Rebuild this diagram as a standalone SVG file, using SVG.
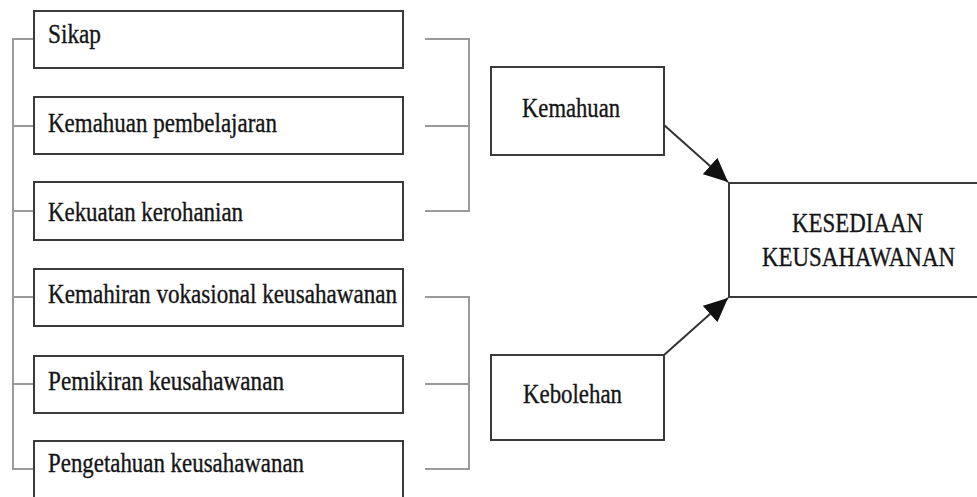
<svg xmlns="http://www.w3.org/2000/svg" width="977" height="497" viewBox="0 0 977 497">
<style>
  .box { fill: #fff; stroke: #3a3a3a; stroke-width: 2; }
  .br { fill: none; stroke: #9a9a9a; stroke-width: 2; }
  .arr { fill: none; stroke: #333; stroke-width: 2; }
  text { font-family: "Liberation Serif", "Times New Roman", serif; font-size: 27px; fill: #151515; stroke: #151515; stroke-width: 0.35; }
</style>
<defs>
  <marker id="ah" markerUnits="userSpaceOnUse" markerWidth="26" markerHeight="22" refX="24" refY="11" orient="auto">
    <path d="M0,0 L24,11 L0,22 Z" fill="#111"/>
  </marker>
</defs>
<rect x="0" y="0" width="977" height="497" fill="#fff"/>
<g id="connectors">
  <path class="br" d="M34,39 H13 V469 H34 M13,126 H34 M13,211 H34 M13,297 H34 M13,384 H34"/>
  <path class="br" d="M425,39 H469 V211 H425 M425,126 H469"/>
  <path class="br" d="M425,297 H469 V469 H425 M425,384 H469"/>
  <line class="arr" x1="664" y1="125" x2="728" y2="182" marker-end="url(#ah)"/>
  <line class="arr" x1="664" y1="355" x2="728" y2="298" marker-end="url(#ah)"/>
</g>
<g id="sikap">
  <rect class="box" x="34" y="11" width="369" height="57"/>
  <text x="48" y="43" textLength="53" lengthAdjust="spacingAndGlyphs">Sikap</text>
</g>
<g id="kemahuan-pembelajaran">
  <rect class="box" x="34" y="97" width="369" height="57"/>
  <text x="48" y="132" textLength="229" lengthAdjust="spacingAndGlyphs">Kemahuan pembelajaran</text>
</g>
<g id="kekuatan-kerohanian">
  <rect class="box" x="34" y="182" width="369" height="58"/>
  <text x="48" y="221" textLength="195" lengthAdjust="spacingAndGlyphs">Kekuatan kerohanian</text>
</g>
<g id="kemahiran-vokasional">
  <rect class="box" x="34" y="269" width="369" height="57"/>
  <text x="48" y="303" textLength="349" lengthAdjust="spacingAndGlyphs">Kemahiran vokasional keusahawanan</text>
</g>
<g id="pemikiran">
  <rect class="box" x="34" y="356" width="369" height="57"/>
  <text x="48" y="390" textLength="236" lengthAdjust="spacingAndGlyphs">Pemikiran keusahawanan</text>
</g>
<g id="pengetahuan">
  <path class="box" d="M34,497 V441 H403 V497"/>
  <text x="48" y="472" textLength="256" lengthAdjust="spacingAndGlyphs">Pengetahuan keusahawanan</text>
</g>
<g id="kemahuan">
  <rect class="box" x="491" y="67" width="173" height="88"/>
  <text x="522" y="117" textLength="98" lengthAdjust="spacingAndGlyphs">Kemahuan</text>
</g>
<g id="kebolehan">
  <rect class="box" x="491" y="355" width="173" height="85"/>
  <text x="523" y="403" textLength="99" lengthAdjust="spacingAndGlyphs">Kebolehan</text>
</g>
<g id="kesediaan">
  <path class="box" d="M977,183 H729 V297 H977"/>
  <text x="792" y="232" textLength="131" lengthAdjust="spacingAndGlyphs">KESEDIAAN</text>
  <text x="762" y="266" textLength="193" lengthAdjust="spacingAndGlyphs">KEUSAHAWANAN</text>
</g>
</svg>
